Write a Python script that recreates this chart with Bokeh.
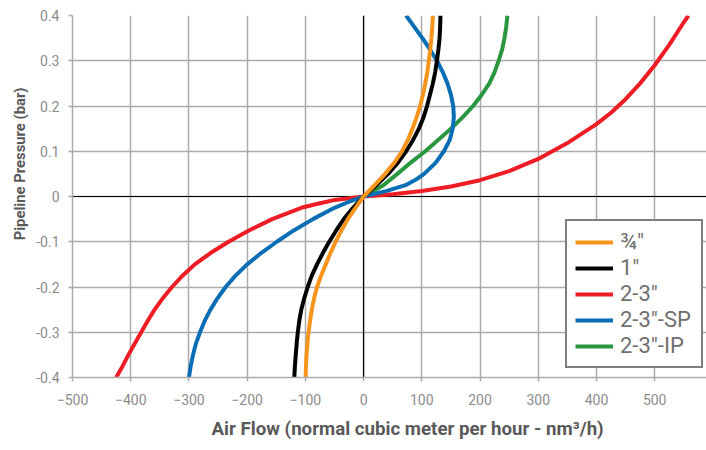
from bokeh.plotting import figure
from bokeh.models import Range1d, FixedTicker, Span, Legend, LegendItem, Title
from bokeh.embed import file_html
from bokeh.resources import INLINE

# ---- data ----
x_ticks = [-500, -400, -300, -200, -100, 0, 100, 200, 300, 400, 500]
y_ticks = [-0.4, -0.3, -0.2, -0.1, 0, 0.1, 0.2, 0.3, 0.4]
y_tick_labels = ["-0.4", "-0.3", "-0.2", "-0.1", "0", "0.1", "0.2", "0.3", "0.4"]

x_title = "Air Flow (normal cubic meter per hour - nm\u00b3/h)"
y_title = "Pipeline Pressure (bar)"
series_names = ["\u00be\u2033", "1\u2033", "2-3\u2033", "2-3\u2033-SP", "2-3\u2033-IP"]

# 3/4"
q34_y = [-0.4, -0.375, -0.35, -0.325, -0.3, -0.275, -0.25, -0.225, -0.2, -0.175, -0.15,
         -0.125, -0.1, -0.075, -0.05, -0.025, 0,
         0.025, 0.05, 0.075, 0.1, 0.125, 0.15, 0.175, 0.2, 0.225, 0.25, 0.275, 0.3,
         0.325, 0.35, 0.375, 0.4]
q34_x = [-99.5, -99, -98, -96.5, -94.5, -92, -89, -85, -80, -73, -65,
         -57, -48, -38, -27, -14, 0,
         19, 37, 53, 66, 76, 84, 91, 97, 102, 106, 109.5, 112,
         114.5, 116.5, 118, 119]

# 1"
one_y = [-0.4, -0.375, -0.35, -0.325, -0.3, -0.275, -0.25, -0.225, -0.2, -0.175, -0.15,
         -0.125, -0.1, -0.075, -0.05, -0.025, 0,
         0.025, 0.05, 0.075, 0.1, 0.125, 0.15, 0.175, 0.2, 0.225, 0.25, 0.275, 0.3,
         0.325, 0.35, 0.375, 0.4]
one_x = [-119, -118, -116.5, -115, -113, -110.5, -107, -102, -96, -89, -80,
         -70, -59, -47, -34, -18, 0,
         22, 42, 59, 73, 85, 95, 103, 109, 114, 119, 123, 126,
         128.5, 130.5, 131.5, 132]

# 2-3"
r23_y = [-0.4, -0.375, -0.35, -0.325, -0.3, -0.275, -0.25, -0.225, -0.2, -0.175, -0.15,
         -0.125, -0.1, -0.075, -0.05, -0.025, -0.015, -0.0075, 0,
         0.005, 0.012, 0.022, 0.036, 0.056, 0.083, 0.118, 0.16, 0.185, 0.215, 0.25,
         0.29, 0.335, 0.385, 0.4]
r23_x = [-425, -414, -404, -393, -382, -371, -359, -345, -329, -311, -290,
         -263, -232, -197, -157, -107, -75, -49, 0,
         50, 100, 150, 200, 250, 300, 350, 400, 425, 450, 475,
         500, 525, 550, 558]

# 2-3"-SP
sp_y = [-0.4, -0.375, -0.35, -0.325, -0.3, -0.275, -0.25, -0.225, -0.2, -0.175, -0.15,
        -0.125, -0.1, -0.075, -0.05, -0.025, -0.01, 0,
        0.0125, 0.025, 0.0375, 0.05, 0.075, 0.1, 0.125, 0.15, 0.175, 0.2, 0.225, 0.25,
        0.275, 0.3, 0.325, 0.35, 0.375, 0.4]
sp_x = [-300, -297, -293, -288, -281, -273, -263, -251, -237, -220, -200,
        -176, -149, -120, -87, -50, -22, 0,
        40, 72, 90, 104, 124, 138, 148, 153, 155, 154, 150, 144,
        136, 126, 114, 101, 87, 73]

# 2-3"-IP
ip_y = [0, 0.025, 0.05, 0.075, 0.1, 0.125, 0.15, 0.175, 0.2, 0.225, 0.25, 0.275, 0.3,
        0.325, 0.35, 0.375, 0.4]
ip_x = [0, 34, 58, 81, 106, 128, 150, 170, 188, 203, 216, 225, 232,
        238, 242, 245, 247]

colors = ["#F7941D", "#000000", "#EE1C25", "#0A6EB4", "#2A9640"]

# ---- figure ----
p = figure(width=706, height=450, output_backend="svg", toolbar_location=None,
           x_range=Range1d(-500, 589), y_range=Range1d(-0.4, 0.4),
           min_border_left=72, min_border_right=0, min_border_top=15, min_border_bottom=73)
p.outline_line_color = None
p.background_fill_color = "white"
p.border_fill_color = "white"

grid_col = "#ababab"
p.xgrid.ticker = FixedTicker(ticks=x_ticks)
p.ygrid.ticker = FixedTicker(ticks=y_ticks)
for g in (p.xgrid, p.ygrid):
    g.grid_line_color = grid_col
    g.grid_line_width = 1.5

p.xaxis.ticker = FixedTicker(ticks=x_ticks)
p.yaxis.ticker = FixedTicker(ticks=y_ticks)
p.yaxis.major_label_overrides = dict(zip(y_ticks, y_tick_labels))

for ax in (p.xaxis, p.yaxis):
    ax.axis_line_color = grid_col
    ax.axis_line_width = 1.5
    ax.major_tick_line_color = grid_col
    ax.major_tick_line_width = 1.5
    ax.major_tick_in = 0
    ax.major_tick_out = 4
    ax.minor_tick_line_color = None
    ax.major_label_text_font = "Roboto"
    ax.major_label_text_font_size = "14px"
    ax.major_label_text_color = "#8c8c8c"

p.xaxis.major_label_standoff = 12
p.yaxis.major_label_standoff = 9

# axis titles (positioned as in the reference, which is not centred on the frame)
xt = Title(text=x_title, align="left", offset=139, standoff=17,
           text_font="Roboto", text_font_style="bold", text_font_size="18.7px",
           text_color="#595959")
yt = Title(text=y_title, align="right", offset=72, standoff=10,
           text_font="Roboto", text_font_style="bold", text_font_size="14.8px",
           text_color="#595959")
p.add_layout(xt, "below")
p.add_layout(yt, "left")

p.add_layout(Span(location=0, dimension="height", line_color="black", line_width=1.2, level="underlay"))
p.add_layout(Span(location=0, dimension="width", line_color="black", line_width=1.2, level="underlay"))

lw = 4
r_red = p.line(r23_x, r23_y, line_color=colors[2], line_width=lw, line_join="round")
r_ip = p.line(ip_x, ip_y, line_color=colors[4], line_width=lw, line_join="round")
r_sp = p.line(sp_x, sp_y, line_color=colors[3], line_width=lw, line_join="round")
r_one = p.line(one_x, one_y, line_color=colors[1], line_width=lw, line_join="round")
r_q34 = p.line(q34_x, q34_y, line_color=colors[0], line_width=lw, line_join="round")

legend = Legend(items=[
    LegendItem(label=series_names[0], renderers=[r_q34]),
    LegendItem(label=series_names[1], renderers=[r_one]),
    LegendItem(label=series_names[2], renderers=[r_red]),
    LegendItem(label=series_names[3], renderers=[r_sp]),
    LegendItem(label=series_names[4], renderers=[r_ip]),
], location=(493, 9))
legend.border_line_color = "black"
legend.border_line_width = 2
legend.background_fill_color = "white"
legend.background_fill_alpha = 1
legend.padding = 8
legend.spacing = 1
legend.margin = 0
legend.glyph_width = 38
legend.glyph_height = 20
legend.label_height = 20
legend.label_width = 73
legend.label_standoff = 7
legend.label_text_font = "Roboto"
legend.label_text_font_size = "22px"
legend.label_text_color = "#707070"
p.add_layout(legend)

open("out.html", "w").write(file_html(p, INLINE))
